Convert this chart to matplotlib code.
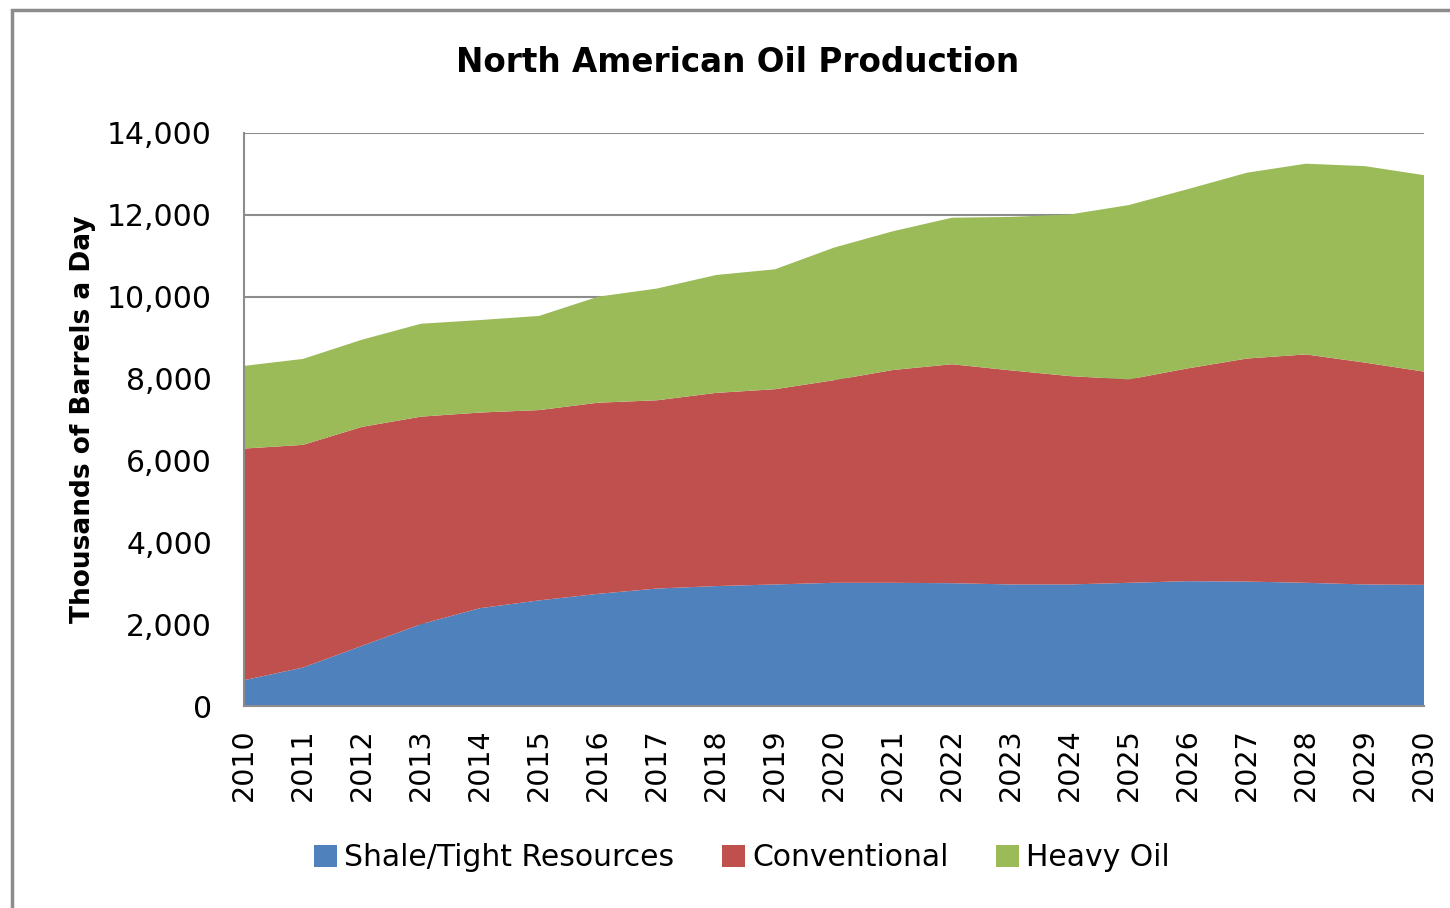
import matplotlib
matplotlib.use("Agg")
import matplotlib.pyplot as plt
from matplotlib.patches import Rectangle, Patch
import numpy as np

years = list(range(2010, 2031))
shale_top = [630, 940, 1470, 2000, 2390, 2580, 2740, 2870, 2930, 2970, 3010,
             3010, 3000, 2970, 2970, 3010, 3050, 3040, 3010, 2970, 2960]
conv_top = [6290, 6380, 6820, 7070, 7170, 7230, 7410, 7470, 7650, 7740, 7960,
            8210, 8350, 8200, 8060, 7980, 8250, 8490, 8590, 8390, 8170]
total_top = [8310, 8480, 8950, 9340, 9430, 9530, 10000, 10200, 10530, 10670, 11200,
             11600, 11930, 11950, 12010, 12240, 12630, 13030, 13250, 13190, 12970]

shale = np.array(shale_top)
conventional = np.array(conv_top) - shale
heavy = np.array(total_top) - np.array(conv_top)

labels = ["Shale/Tight Resources", "Conventional", "Heavy Oil"]
colors = ["#4F81BD", "#C0504D", "#9BBB59"]
yticks = list(range(0, 14001, 2000))

fig = plt.figure(figsize=(14.5, 9.08), dpi=100)
fig.patch.set_facecolor("white")

# outer chart border
fig.patches.append(Rectangle((12 / 1450, -0.1), 1.2, 1 - 10 / 908 + 0.1,
                             transform=fig.transFigure, fill=False,
                             edgecolor="#8c8c8c", linewidth=2.5))

ax = fig.add_axes([244 / 1450, 1 - 706 / 908, (1424 - 244) / 1450, (706 - 133) / 908])
ax.stackplot(years, shale, conventional, heavy, colors=colors, labels=labels,
             linewidth=0, zorder=2)
ax.set_xlim(2010, 2030)
ax.set_ylim(0, 14000)
ax.set_yticks(yticks)
ax.set_yticklabels([f"{v:,}" for v in yticks], fontsize=21.5)
ax.set_xticks(years)
ax.set_xticklabels([str(y) for y in years], rotation=90, fontsize=20.5)
ax.tick_params(axis="y", length=0, pad=23)
ax.tick_params(axis="x", length=0, pad=16)
ax.yaxis.grid(True, color="#8c8c8c", linewidth=1.5, zorder=0)
ax.set_axisbelow(True)
for s in ["top", "right"]:
    ax.spines[s].set_visible(False)
for s in ["left", "bottom"]:
    ax.spines[s].set_color("#8c8c8c")
    ax.spines[s].set_linewidth(1.5)

ax.set_ylabel("Thousands of Barrels a Day", fontsize=19, fontweight="bold")
ax.yaxis.set_label_coords((96 - 244) / (1424 - 244), 0.5)
fig.text(738 / 1450, 1 - 62 / 908, "North American Oil Production", ha="center",
         va="center", fontsize=23.5, fontweight="bold")

handles = [Patch(facecolor=c, edgecolor="none") for c in colors]
fig.legend(handles, labels, loc="center", bbox_to_anchor=(742 / 1450, 1 - 858 / 908),
           ncol=3, frameon=False, fontsize=21.5, handlelength=0.75, handleheight=0.75,
           handletextpad=0.25, columnspacing=1.6)

fig.savefig("out.png", dpi=100)
